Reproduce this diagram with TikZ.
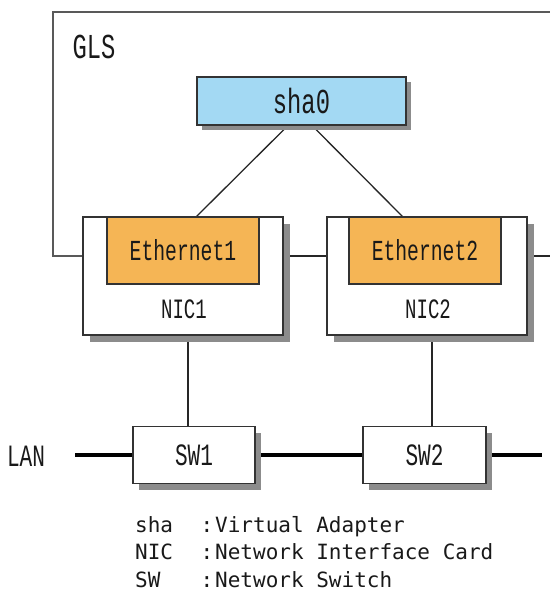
\documentclass[tikz,border=0pt]{standalone}
\usepackage{fontspec}
\newfontfamily\lblfont[FakeStretch=0.68]{Liberation Mono}
\newfontfamily\legfont{DejaVu Sans Mono}
\usetikzlibrary{shadows,backgrounds}
\definecolor{shablue}{HTML}{A3D9F3}
\definecolor{ethorange}{HTML}{F5B555}
\definecolor{shadowgray}{HTML}{8C8C8C}
\begin{document}
\begin{tikzpicture}[x=1pt,y=-1pt,
  box/.style={draw=black!80,line width=1.4pt,rectangle,inner sep=0pt,outer sep=0pt,fill=white},
  shad/.style={drop shadow={shadow xshift=#1pt,shadow yshift=-#1pt,fill=shadowgray,opacity=1}},
  lbl/.style={inner sep=0pt,font=\lblfont\fontsize{#1}{#1}\selectfont,text=black!90},
  leg/.style={inner sep=0pt,anchor=base west,font=\legfont\fontsize{21}{21}\selectfont,text=black!90},
  glsline/.style={draw=black!65,line width=1.8pt},
  conn/.style={draw=black!85,line width=1.3pt},
  lan/.style={draw=black,line width=4pt}]
\useasboundingbox (0,0) rectangle (550,599);

% nodes
\node[box,shad=7,minimum width=200,minimum height=118] (nic1) at (183,276) {};
\node[box,shad=7,minimum width=200,minimum height=118] (nic2) at (427,276) {};
\node[box,fill=ethorange,minimum width=152,minimum height=67,lbl=29] (eth1) at (183,250.5) {Ethernet1};
\node[box,fill=ethorange,minimum width=152,minimum height=67,lbl=29] (eth2) at (425,250.5) {Ethernet2};
\node[lbl=28] (nic1lbl) at (184,309) {NIC1};
\node[lbl=28] (nic2lbl) at (428,309) {NIC2};
\node[box,shad=5,fill=shablue,minimum width=209,minimum height=48,lbl=35] (sha) at (301.5,101) {sha0};
\node[lbl=35] (gls) at (94,47) {GLS};
\node[box,shad=6,minimum width=122,minimum height=57,lbl=31] (sw1) at (194,455) {SW1};
\node[box,shad=6,minimum width=123,minimum height=57,lbl=31] (sw2) at (424.5,455) {SW2};
\node[lbl=31] (lanlbl) at (26,456) {LAN};

% legend
\node[leg] (k1) at (135,532) {sha};
\node[leg] (k2) at (135,559.5) {NIC};
\node[leg] (k3) at (135,587) {SW};
\node[leg,anchor=base] (c1) at (207,532) {:};
\node[leg,anchor=base] (c2) at (207,559.5) {:};
\node[leg,anchor=base] (c3) at (207,587) {:};
\node[leg] (d1) at (215,532) {Virtual Adapter};
\node[leg] (d2) at (215,559.5) {Network Interface Card};
\node[leg] (d3) at (215,587) {Network Switch};

% coordinates
\coordinate (glsTL) at (53,12);
\coordinate (glsTR) at (550,12);
\coordinate (glsR) at (550,256);
\coordinate (lanstart) at (75,455);
\coordinate (lanend) at (542,455);

\begin{scope}[on background layer]
  \draw[glsline] ([yshift=-39pt]nic1.north west) -| (glsTL) -- (glsTR);
  \draw[conn] ([yshift=-39pt]nic1.north east) -- ([yshift=-39pt]nic2.north west);
  \draw[conn] ([yshift=-39pt]nic2.north east) -- (glsR);
  \draw[conn] ([xshift=-13pt]sha.south) -- ([xshift=89pt]eth1.north west);
  \draw[conn] ([xshift=10pt]sha.south) -- ([xshift=-98pt]eth2.north east);
  \draw[conn] ([xshift=5pt]nic1.south) -- ([xshift=5pt]nic1.south |- sw1.north);
  \draw[conn] ([xshift=5pt]nic2.south) -- ([xshift=5pt]nic2.south |- sw2.north);
  \draw[lan] (lanstart) -- (sw1.west);
  \draw[lan] (sw1.east) -- (sw2.west);
  \draw[lan] (sw2.east) -- (lanend);
\end{scope}
\end{tikzpicture}
\end{document}
